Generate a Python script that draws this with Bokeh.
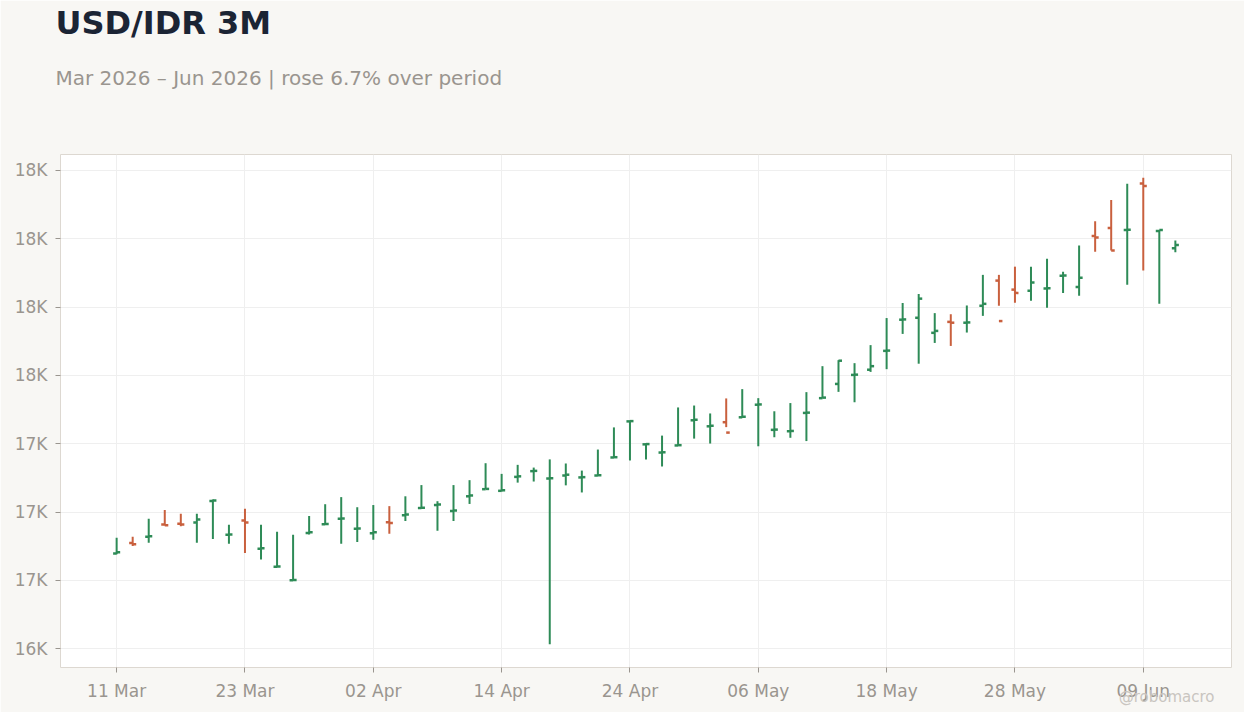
import pandas as pd
from bokeh.plotting import figure
from bokeh.models import ColumnDataSource, Range1d, FixedTicker, Title
from bokeh.embed import file_html
from bokeh.resources import INLINE

# daily bars, trading days from 11 Mar 2026
dates = pd.bdate_range("2026-03-11", periods=67)
opens = [16849, 16887, 16910, 16955, 16958, 16962, 17041, 16917, 16969, 16866,
         16800, 16751, 16924, 16956, 16976, 16939, 16923, 16963, 16989, 17015,
         17026, 17004, 17058, 17084, 17078, 17129, 17150, 17123, 17134, 17127,
         17134, 17200, 17332, 17248, 17218, 17244, 17336, 17314, 17329, 17347,
         17393, 17301, 17296, 17363, 17417, 17469, 17502, 17521, 17590, 17704,
         17711, 17656, 17696, 17693, 17755, 17847, 17814, 17810, 17818, 17865,
         17824, 18010, 18039, 18032, 18202, 18028, 17965]
highs = [16906, 16910, 16976, 17008, 16994, 16994, 17046, 16954, 17012, 16954,
         16928, 16917, 16986, 17029, 17055, 17018, 17026, 17022, 17058, 17099,
         17040, 17099, 17117, 17179, 17140, 17173, 17163, 17193, 17178, 17152,
         17229, 17310, 17334, 17251, 17280, 17383, 17390, 17361, 17416, 17450,
         17417, 17369, 17399, 17439, 17534, 17556, 17545, 17611, 17710, 17765,
         17798, 17728, 17724, 17756, 17868, 17868, 17898, 17898, 17927, 17879,
         17975, 18064, 18142, 18201, 18223, 18032, 17994]
lows = [16846, 16876, 16888, 16951, 16948, 16888, 16902, 16884, 16851, 16827,
        16798, 16749, 16918, 16954, 16884, 16891, 16899, 16921, 16968, 17012,
        16932, 16968, 17030, 17084, 17076, 17108, 17112, 16517, 17098, 17072,
        17133, 17199, 17189, 17193, 17167, 17243, 17269, 17251, 17311, 17345,
        17241, 17274, 17272, 17260, 17416, 17440, 17402, 17513, 17523, 17652,
        17543, 17619, 17608, 17657, 17718, 17755, 17766, 17773, 17748, 17802,
        17792, 17953, 17957, 17832, 17884, 17762, 17951]
closes = [16853, 16883, 16912, 16952, 16955, 16973, 17043, 16918, 16962, 16868,
          16801, 16752, 16926, 16957, 16977, 16940, 16926, 16960, 16991, 17016,
          17028, 17006, 17061, 17085, 17080, 17131, 17151, 17124, 17137, 17128,
          17135, 17201, 17333, 17249, 17219, 17245, 17338, 17316, 17291, 17349,
          17394, 17302, 17297, 17364, 17419, 17554, 17503, 17534, 17591, 17705,
          17781, 17663, 17693, 17694, 17762, 17699, 17802, 17840, 17819, 17866,
          17857, 18005, 17957, 18033, 18193, 18032, 17977]

y_ticks = [16500, 16750, 17000, 17250, 17500, 17750, 18000, 18250]
y_labels = ["16K", "17K", "17K", "17K", "18K", "18K", "18K", "18K"]
x_ticks = list(range(0, len(dates), 8))

UP = "#2e8b57"
DOWN = "#c9603e"
FONT = "DejaVu Sans"
GREY = "#9a958f"

idx = list(range(len(dates)))
colors = [UP if c >= o else DOWN for o, c in zip(opens, closes)]
src = ColumnDataSource(data=dict(
    x=idx,
    xl=[i - 0.22 for i in idx],
    xr=[i + 0.22 for i in idx],
    open=opens, high=highs, low=lows, close=closes, color=colors,
))

span = max(highs) - min(lows)
p = figure(
    width=1244, height=712, title=None,
    x_range=Range1d(-3.5, len(dates) + 2.5),
    y_range=Range1d(min(lows) - 0.05 * span, max(highs) + 0.05 * span),
    output_backend="svg", toolbar_location=None,
    min_border_left=60, min_border_right=13,
    min_border_top=154, min_border_bottom=45,
    background_fill_color="white", border_fill_color="#f8f7f4",
    outline_line_color="#ddd8d1",
)

p.segment("x", "low", "x", "high", source=src, color="color", line_width=2)
p.segment("xl", "open", "x", "open", source=src, color="color", line_width=2.5)
p.segment("x", "close", "xr", "close", source=src, color="color", line_width=2.5)

p.xaxis.ticker = FixedTicker(ticks=x_ticks)
p.xaxis.major_label_overrides = {i: dates[i].strftime("%d %b") for i in x_ticks}
p.yaxis.ticker = FixedTicker(ticks=y_ticks)
p.yaxis.major_label_overrides = dict(zip(y_ticks, y_labels))

for ax in (p.xaxis[0], p.yaxis[0]):
    ax.axis_line_color = None
    ax.major_tick_line_color = GREY
    ax.major_tick_in = 0
    ax.major_tick_out = 5
    ax.minor_tick_line_color = None
    ax.major_label_text_color = GREY
    ax.major_label_text_font = FONT
    ax.major_label_text_font_size = "17px"
    ax.major_label_standoff = 8

p.xgrid.grid_line_color = "#efefef"
p.ygrid.grid_line_color = "#efefef"

# stacked above the plot, nearest first: blank spacer, subtitle, title
p.add_layout(Title(text=" ", text_font_size="1px", standoff=41), "above")
p.add_layout(Title(text="Mar 2026 – Jun 2026 | rose 6.7% over period",
                   text_font=FONT, text_font_size="20px", text_font_style="normal",
                   text_color=GREY, standoff=42, offset=-5), "above")
p.add_layout(Title(text="USD/IDR 3M", text_font=FONT, text_font_size="32px",
                   text_font_style="bold", text_color="#1b2434",
                   standoff=2, offset=-5), "above")
p.add_layout(Title(text="@robomacro", text_font=FONT, text_font_size="15px",
                   text_font_style="normal", text_color="#c9c5c0",
                   align="right", vertical_align="top",
                   standoff=-32, offset=17), "below")

open("out.html", "w").write(file_html(p, INLINE))
